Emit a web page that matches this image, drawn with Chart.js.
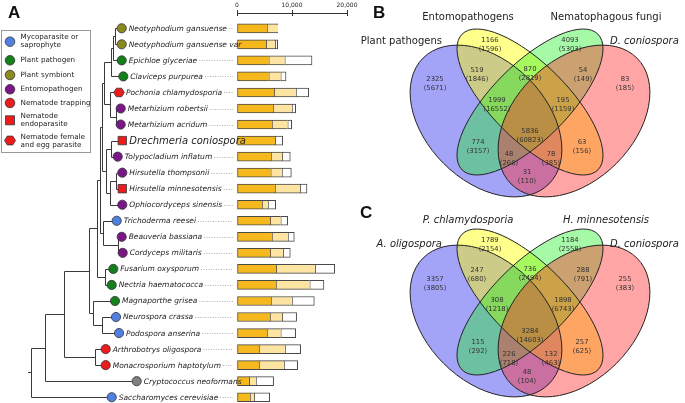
<!DOCTYPE html>
<html>
<head>
<meta charset="utf-8">
<script src="https://cdn.jsdelivr.net/npm/chart.js@4.4.1/dist/chart.umd.min.js"></script>
<style>
  body { margin: 0; background: #fff; }
  #wrap { position: relative; width: 685px; height: 403px; overflow: hidden; }
  .box { position: absolute; }
</style>
</head>
<body>
<div id="wrap">
  <div class="box" style="left:0;top:0"><canvas id="treeChart" width="685" height="403"></canvas></div>
  <div class="box" style="left:350px;top:0"><canvas id="vennB" width="335" height="200"></canvas></div>
  <div class="box" style="left:350px;top:200px"><canvas id="vennC" width="335" height="203"></canvas></div>
</div>
<script>
// panel A: genomes, lifestyles and gene counts (three stacked parts)
const species = [
  "Neotyphodium gansuense", "Neotyphodium gansuense var", "Epichloe glyceriae", "Claviceps purpurea",
  "Pochonia chlamydosporia", "Metarhizium robertsii", "Metarhizium acridum", "Drechmeria coniospora",
  "Tolypocladium inflatum", "Hirsutella thompsonii", "Hirsutella minnesotensis", "Ophiocordyceps sinensis",
  "Trichoderma reesei", "Beauveria bassiana", "Cordyceps militaris", "Fusarium oxysporum",
  "Nectria haematococca", "Magnaporthe grisea", "Neurospora crassa", "Podospora anserina",
  "Arthrobotrys oligospora", "Monacrosporium haptotylum", "Cryptococcus neoformans", "Saccharomyces cerevisiae"
];
const lifestyle = [
  "symb", "symb", "plant", "plant", "egg", "ento", "ento", "endo",
  "ento", "ento", "endo", "ento", "myco", "ento", "ento", "plant",
  "plant", "plant", "myco", "myco", "trap", "trap", "other", "myco"
];
const conservedGenes = [5450, 5330, 5760, 5760, 6790, 6550, 6360, 6970, 6180, 6120, 6910, 4550,
                        6060, 6360, 6060, 7150, 7090, 6180, 6000, 5450, 4000, 4000, 2240, 2360];
const sharedGenes = [1820, 1640, 2910, 2180, 3940, 3450, 2850, 0, 2060, 2060, 4600, 1090,
                     1880, 2910, 2360, 7090, 6120, 3820, 2240, 2490, 4730, 4550, 1210, 790];
const specificGenes = [150, 420, 4970, 970, 2300, 670, 730, 1330, 1450, 1700, 1210, 1390,
                       1270, 1150, 1270, 3520, 2600, 4060, 2600, 2730, 2850, 2480, 3210, 2790];
const axisTicks = [0, 10000, 20000];

const legendKinds = ["myco", "plant", "symb", "ento", "trap", "endo", "egg"];
const legendLabels = [
  ["Mycoparasite or", "saprophyte"], ["Plant pathogen"], ["Plant symbiont"], ["Entomopathogen"],
  ["Nematode trapping"], ["Nematode", "endoparasite"], ["Nematode female", "and egg parasite"]
];

// panels B and C: region order is shared, counts are families (proteins)
const vennRegions = ["Y", "G", "BY", "YG", "GR", "B", "R", "BYG", "YGR", "BYGR", "BG", "YR", "BGR", "BYR", "BR"];
const vennBSets = ["Plant pathogens", "Entomopathogens", "Nematophagous fungi", "D. coniospora"];
const vennBFamilies = [1166, 4093, 519, 870, 54, 2325, 83, 1999, 195, 5836, 774, 63, 48, 78, 31];
const vennBProteins = [1596, 5303, 1846, 2819, 149, 5671, 185, 16552, 1159, 60823, 3157, 156, 266, 385, 110];
const vennCSets = ["A. oligospora", "P. chlamydosporia", "H. minnesotensis", "D. coniospora"];
const vennCFamilies = [1789, 1184, 247, 736, 288, 3357, 255, 308, 1898, 3284, 115, 257, 226, 132, 48];
const vennCProteins = [2154, 2558, 680, 2494, 791, 3805, 383, 1218, 6743, 14603, 292, 625, 718, 463, 104];

// ---- layout bits (not data) ----
const tipX = [121.7, 121.7, 121.7, 123.3, 119, 120.7, 120.7, 122.3, 117.7, 122.3, 122.3, 122.3,
              116.7, 121.7, 122.7, 113.3, 111.7, 115, 116, 119, 105.7, 105.7, 136.7, 111.7];
const node = (x, a, b) => ({ x, a, b });
const tree = node(31,
  node(45,
    node(64.3,
      node(89.3,
        node(96.7,
          node(100,
            node(101.5,
              node(104, node(111, node(113, node(115, 0, 1), 2), 3), node(110, 4, node(116, 5, 6))),
              node(106, node(111, 7, 8), node(110, node(116, 9, 10), 11))),
            node(103.3, 12, node(118, 13, 14))),
          node(105, 15, 16)),
        node(93.3, 17, node(101.7, 18, 19))),
      node(95, 20, 21)),
    22),
  23);
const legendMarkY = [41.7, 60.3, 75, 89.3, 103, 120.3, 140.5];
const legendTextY = [[37.5, 45.5], [60.5], [75], [89.5], [103.3], [116.5, 124.5], [137.3, 145.3]];

const kindColor = {
  myco: "#4f80e2", plant: "#14801c", symb: "#8b8a1f", ento: "#7a1686",
  trap: "#ec1c1c", endo: "#ec1c1c", egg: "#ec1c1c", other: "#808080"
};

function drawMarker(ctx, kind, x, y, s) {
  ctx.fillStyle = kindColor[kind];
  ctx.strokeStyle = "#333";
  ctx.lineWidth = 0.8;
  ctx.beginPath();
  if (kind === "endo") {
    ctx.rect(x - s, y - s, 2 * s, 2 * s);
  } else if (kind === "egg") {
    for (let k = 0; k < 6; k++) {
      const a = k * Math.PI / 3;
      const px = x + (s + 1) * Math.cos(a), py = y + (s + 0.6) * Math.sin(a);
      k ? ctx.lineTo(px, py) : ctx.moveTo(px, py);
    }
    ctx.closePath();
  } else {
    ctx.arc(x, y, s + 0.3, 0, Math.PI * 2);
  }
  ctx.fill();
  ctx.stroke();
}

function hline(ctx, x1, x2, y) {
  const yy = Math.round(y) + 0.5;
  ctx.beginPath(); ctx.moveTo(x1, yy); ctx.lineTo(x2, yy); ctx.stroke();
}
function vline(ctx, x, y1, y2) {
  const xx = Math.round(x) + 0.5;
  ctx.beginPath(); ctx.moveTo(xx, y1); ctx.lineTo(xx, y2); ctx.stroke();
}

const treePlugin = {
  id: "tree",
  afterDraw(chart) {
    const ctx = chart.ctx;
    const ys = chart.scales.y, xs = chart.scales.x;
    const rowY = i => ys.getPixelForValue(i);
    ctx.save();

    // small tick marks under the axis line
    ctx.strokeStyle = "#333"; ctx.lineWidth = 1;
    axisTicks.forEach(t => vline(ctx, xs.getPixelForValue(t), chart.chartArea.top, chart.chartArea.top + 3));

    // tree
    ctx.strokeStyle = "#3a3a3a"; ctx.lineWidth = 1;
    const walk = n => {
      if (typeof n === "number") return { x: tipX[n], y: rowY(n) };
      const a = walk(n.a), b = walk(n.b);
      const ya = Math.round(a.y) + 0.5, yb = Math.round(b.y) + 0.5;
      vline(ctx, n.x, ya, yb);
      hline(ctx, Math.round(n.x) + 0.5, a.x, a.y);
      hline(ctx, Math.round(n.x) + 0.5, b.x, b.y);
      return { x: Math.round(n.x) + 0.5, y: (a.y + b.y) / 2 };
    };
    const root = walk(tree);
    hline(ctx, 28, root.x, root.y);

    // names, dotted leaders, markers
    ctx.textBaseline = "middle";
    species.forEach((name, i) => {
      const y = rowY(i);
      const big = name === "Drechmeria coniospora";
      ctx.font = big ? "italic 10px 'DejaVu Sans'" : "italic 7.5px 'DejaVu Sans'";
      const tx = tipX[i] + 7;
      const w = ctx.measureText(name).width;
      ctx.fillStyle = "#222";
      ctx.fillText(name, tx, y + 0.5);
      if (tx + w + 2 < 232) {
        ctx.save();
        ctx.strokeStyle = "#999"; ctx.lineWidth = 0.8; ctx.setLineDash([1, 1.5]);
        hline(ctx, tx + w + 2, 233, y);
        ctx.restore();
      }
      drawMarker(ctx, lifestyle[i], tipX[i], y, lifestyle[i] === "endo" ? 4.2 : 4.3);
    });

    // legend box
    ctx.strokeStyle = "#999"; ctx.lineWidth = 1;
    ctx.strokeRect(1.5, 30.5, 89, 122);
    ctx.font = "7.2px 'DejaVu Sans'";
    legendKinds.forEach((k, i) => {
      drawMarker(ctx, k, 10, legendMarkY[i], 4.5);
      ctx.fillStyle = "#222";
      legendLabels[i].forEach((t, j) => ctx.fillText(t, 20.5, legendTextY[i][j]));
    });

    // panel letter
    ctx.fillStyle = "#111";
    ctx.font = "bold 17px 'Liberation Sans'";
    ctx.textBaseline = "alphabetic";
    ctx.fillText("A", 8, 18);
    ctx.restore();
  }
};

function barPart(values, color, border) {
  return {
    data: values.map((v, i) => ({ x: v, y: i })),
    backgroundColor: color,
    borderColor: "#4a4a4a",
    borderWidth: border,
    borderSkipped: false,
    barThickness: 9,
    stack: "genes"
  };
}

new Chart(document.getElementById("treeChart"), {
  type: "bar",
  data: {
    datasets: [
      barPart(conservedGenes, "#f6b91d", { top: 1, bottom: 1, left: 1, right: 0 }),
      barPart(sharedGenes, "#fde4a2", { top: 1, bottom: 1, left: 1, right: 0 }),
      barPart(specificGenes, "#ffffff", { top: 1, bottom: 1, left: 1, right: 1 })
    ]
  },
  options: {
    indexAxis: "y",
    responsive: false,
    animation: false,
    layout: { padding: { left: 237, right: 338, top: 0, bottom: 0 } },
    plugins: { legend: { display: false }, tooltip: { enabled: false } },
    scales: {
      x: {
        position: "top",
        min: 0,
        max: 20000,
        stacked: true,
        afterFit: s => { s.height = 13; },
        afterBuildTicks: s => { s.ticks = axisTicks.map(v => ({ value: v })); },
        ticks: {
          font: { family: "DejaVu Sans", size: 6 },
          color: "#222",
          padding: 1,
          maxRotation: 0,
          callback: v => v.toLocaleString("en-US")
        },
        grid: { drawOnChartArea: false, drawTicks: true, tickLength: 3, color: "#333" },
        border: { display: true, color: "#333", width: 1 }
      },
      y: {
        type: "linear", min: -0.954, max: 23.36, reverse: true, stacked: true,
        offset: false, display: false
      }
    }
  },
  plugins: [treePlugin]
});

// ---- Venn panels ----
const vennEllipses = [
  { cx: -44, cy: 0, a: 89, b: 60, rot: 45, fill: "rgba(60,60,240,0.47)" },
  { cx: 0, cy: -19, a: 96, b: 38, rot: 45, fill: "rgba(255,255,0,0.45)" },
  { cx: 0, cy: -19, a: 96, b: 38, rot: -45, fill: "rgba(20,240,20,0.38)" },
  { cx: 44, cy: 0, a: 89, b: 60, rot: -45, fill: "rgba(255,40,40,0.42)" }
];
const regionPos = {
  Y: [-40, -81], G: [40, -81], BY: [-53, -51], YG: [0, -52], GR: [53, -51],
  B: [-95, -42], R: [95, -42], BYG: [-33, -21], YGR: [33, -21], BYGR: [0, 10],
  BG: [-52, 21], YR: [52, 21], BGR: [-21, 33], BYR: [21, 33], BR: [-3, 51]
};
// set label anchors: [x, y, align]
const setLabelPos = [[-88, -80, "right"], [-62, -104, "center"], [76, -104, "center"], [80, -80, "left"]];

function vennChart(id, sets, italic, families, proteins, yMin, yMax, labelShift, letter, letterPos) {
  new Chart(document.getElementById(id), {
    type: "scatter",
    data: { datasets: [] },
    options: {
      responsive: false,
      animation: false,
      layout: { padding: 0 },
      plugins: { legend: { display: false }, tooltip: { enabled: false } },
      scales: {
        x: { type: "linear", min: -180, max: 155, display: false },
        y: { type: "linear", min: yMin, max: yMax, reverse: true, display: false }
      }
    },
    plugins: [{
      id: "venn",
      afterDraw(chart) {
        const ctx = chart.ctx, xs = chart.scales.x, ys = chart.scales.y;
        const kx = xs.getPixelForValue(1) - xs.getPixelForValue(0);
        const ky = ys.getPixelForValue(1) - ys.getPixelForValue(0);
        ctx.save();
        const path = e => {
          ctx.beginPath();
          ctx.ellipse(xs.getPixelForValue(e.cx), ys.getPixelForValue(e.cy), e.a * kx, e.b * ky,
            e.rot * Math.PI / 180, 0, Math.PI * 2);
        };
        vennEllipses.forEach(e => { path(e); ctx.fillStyle = e.fill; ctx.fill(); });
        ctx.strokeStyle = "#222"; ctx.lineWidth = 1;
        vennEllipses.forEach(e => { path(e); ctx.stroke(); });

        ctx.fillStyle = "#333";
        ctx.textAlign = "center";
        ctx.textBaseline = "middle";
        ctx.font = "6.8px 'DejaVu Sans'";
        vennRegions.forEach((r, i) => {
          const [dx, dy] = regionPos[r];
          const x = xs.getPixelForValue(dx), y = ys.getPixelForValue(dy);
          ctx.fillText(String(families[i]), x, y);
          ctx.fillText("(" + proteins[i] + ")", x, y + 9.5);
        });

        ctx.fillStyle = "#222";
        sets.forEach((s, i) => {
          const [dx, dy, al] = setLabelPos[i];
          ctx.font = (italic[i] ? "italic " : "") + "10px 'DejaVu Sans'";
          ctx.textAlign = al;
          ctx.fillText(s, xs.getPixelForValue(dx), ys.getPixelForValue(dy + labelShift));
        });

        ctx.fillStyle = "#111";
        ctx.font = "bold 17px 'Liberation Sans'";
        ctx.textAlign = "left";
        ctx.textBaseline = "alphabetic";
        ctx.fillText(letter, letterPos[0], letterPos[1]);
        ctx.restore();
      }
    }]
  });
}

vennChart("vennB", vennBSets, [false, false, false, true], vennBFamilies, vennBProteins, -121, 79, 0, "B", [23, 18]);
vennChart("vennC", vennCSets, [true, true, true, true], vennCFamilies, vennCProteins, -121, 82, 3, "C", [10, 18]);
</script>
</body>
</html>
